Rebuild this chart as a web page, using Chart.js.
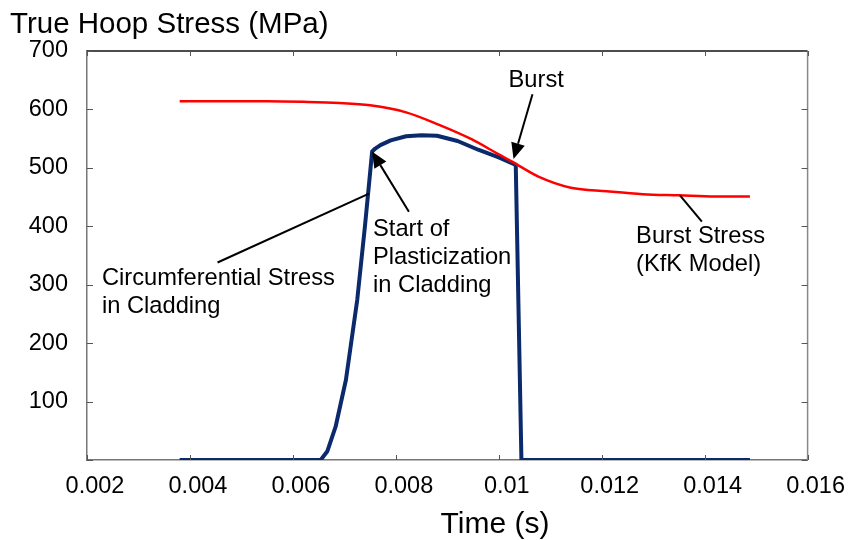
<!DOCTYPE html>
<html>
<head>
<meta charset="utf-8">
<script src="https://cdn.jsdelivr.net/npm/chart.js@4/dist/chart.umd.min.js"></script>
<style>
  html, body { margin: 0; padding: 0; background: #fff; }
  #wrap { width: 849px; height: 540px; }
</style>
</head>
<body>
<div id="wrap"><canvas id="hoopChart"></canvas></div>
<script>
// time (s) / stress (MPa)
const burstTime = [0.0038, 0.0045, 0.0055, 0.0062, 0.0069, 0.0075, 0.0082, 0.00883, 0.00947, 0.0100, 0.01025, 0.01077, 0.0114, 0.0121, 0.0128, 0.0135, 0.0142, 0.01488];
const burstStress = [614, 614, 614, 613, 611, 607, 595, 574, 549, 523, 511, 485, 466, 460, 455, 453, 451, 451];

const hoopTime = [0.0038, 0.00654, 0.00667, 0.00683, 0.00703, 0.00725, 0.0074, 0.00754, 0.0076, 0.0077, 0.0079, 0.0082, 0.0085, 0.0088, 0.0092, 0.0096, 0.0100, 0.01033, 0.01044, 0.01488];
const hoopStress = [0, 0, 15, 57, 137, 274, 400, 528, 533, 539, 547, 554, 556, 555, 546, 531, 518, 505, 0, 0];

const xTicks = [0.002, 0.004, 0.006, 0.008, 0.010, 0.012, 0.014, 0.016];
const yTicks = [0, 100, 200, 300, 400, 500, 600, 700];

const FONT = '"Liberation Sans", Arial, sans-serif';

// callouts, in data coordinates
const arrows = [
  { from: [0.010655, 626], to: [0.010287, 515] },   // Burst
  { from: [0.008254, 425], to: [0.007537, 528] }    // Start of plasticization
];
const leaders = [
  { from: [0.004536, 338], to: [0.007479, 456] },   // circumferential stress
  { from: [0.01352, 453], to: [0.013946, 408] }     // burst stress
];
const notes = [
  { at: [0.01019, 638], lines: ['Burst'] },
  { at: [0.007557, 383], lines: ['Start of', 'Plasticization', 'in Cladding'] },
  { at: [0.012668, 372], lines: ['Burst Stress', '(KfK Model)'] },
  { at: [0.00229, 300], lines: ['Circumferential Stress', 'in Cladding'] }
];

const toPoints = (xs, ys) => xs.map((t, i) => ({ x: t, y: ys[i] }));

const decor = {
  id: 'decor',
  afterDatasetsDraw(chart) {
    const { ctx, chartArea: a, scales: { x, y } } = chart;
    const P = (p) => [x.getPixelForValue(p[0]), y.getPixelForValue(p[1])];
    const seg = (x1, y1, x2, y2) => { ctx.beginPath(); ctx.moveTo(x1, y1); ctx.lineTo(x2, y2); ctx.stroke(); };

    ctx.save();
    // frame: top and right
    ctx.lineWidth = 1.5;
    ctx.strokeStyle = '#111';
    seg(a.left, a.top, a.right, a.top);
    ctx.strokeStyle = '#888';
    seg(a.right, a.top, a.right, a.bottom);

    // inward tick marks
    ctx.strokeStyle = '#555';
    ctx.lineWidth = 1;
    xTicks.forEach(t => {
      const px = Math.round(x.getPixelForValue(t)) + 0.5;
      seg(px, a.bottom, px, a.bottom - 5);
      seg(px, a.top, px, a.top + 5);
    });
    yTicks.forEach(v => {
      const py = Math.round(y.getPixelForValue(v)) + 0.5;
      seg(a.left, py, a.left + 6, py);
      seg(a.right, py, a.right - 6, py);
    });

    // leader lines and arrows
    ctx.strokeStyle = '#000';
    ctx.fillStyle = '#000';
    ctx.lineWidth = 2;
    leaders.forEach(l => {
      const [x1, y1] = P(l.from), [x2, y2] = P(l.to);
      seg(x1, y1, x2, y2);
    });
    arrows.forEach(ar => {
      const [x1, y1] = P(ar.from), [x2, y2] = P(ar.to);
      const ang = Math.atan2(y2 - y1, x2 - x1);
      const len = 16, half = 7;
      const bx = x2 - len * Math.cos(ang), by = y2 - len * Math.sin(ang);
      seg(x1, y1, bx, by);
      ctx.beginPath();
      ctx.moveTo(x2, y2);
      ctx.lineTo(bx + half * Math.sin(ang), by - half * Math.cos(ang));
      ctx.lineTo(bx - half * Math.sin(ang), by + half * Math.cos(ang));
      ctx.closePath();
      ctx.fill();
    });

    // text notes
    ctx.font = '23.7px ' + FONT;
    ctx.textAlign = 'left';
    ctx.textBaseline = 'alphabetic';
    notes.forEach(n => {
      const [px, py] = P(n.at);
      n.lines.forEach((s, i) => ctx.fillText(s, px, py + i * 28));
    });

    // axis titles
    ctx.font = '29.5px ' + FONT;
    ctx.fillText('True Hoop Stress (MPa)', 10, 33);
    ctx.font = '30px ' + FONT;
    ctx.textAlign = 'center';
    ctx.fillText('Time (s)', 495, 533);
    ctx.restore();
  }
};

new Chart(document.getElementById('hoopChart'), {
  type: 'line',
  data: {
    datasets: [
      {
        label: 'Burst Stress (KfK Model)',
        data: toPoints(burstTime, burstStress),
        borderColor: '#ff0000',
        borderWidth: 2.5,
        pointRadius: 0,
        cubicInterpolationMode: 'monotone',
        fill: false
      },
      {
        label: 'Circumferential Stress in Cladding',
        data: toPoints(hoopTime, hoopStress),
        borderColor: '#0b2a6b',
        borderWidth: 4,
        pointRadius: 0,
        tension: 0,
        borderJoinStyle: 'round',
        fill: false
      }
    ]
  },
  options: {
    responsive: true,
    maintainAspectRatio: false,
    animation: false,
    layout: { padding: { top: 51, right: 39, left: 0, bottom: 0 } },
    plugins: {
      legend: { display: false },
      tooltip: { enabled: false }
    },
    scales: {
      x: {
        type: 'linear',
        min: 0.002,
        max: 0.016,
        afterBuildTicks: (s) => { s.ticks = xTicks.map(v => ({ value: v })); },
        afterFit: (s) => { s.height = 80; },
        ticks: {
          color: '#000',
          padding: 12,
          labelOffset: 8,
          maxRotation: 0,
          font: { family: FONT, size: 23.5 },
          callback: (v) => String(Number(v.toFixed(3)))
        },
        grid: { display: false, drawTicks: false },
        border: { display: true, color: '#777', width: 1.5 }
      },
      y: {
        min: 0,
        max: 700,
        afterBuildTicks: (s) => { s.ticks = yTicks.map(v => ({ value: v })); },
        afterFit: (s) => { s.width = 87; },
        ticks: {
          color: '#000',
          padding: 19,
          font: { family: FONT, size: 23.5 },
          callback: (v) => (v === 0 ? '' : v)
        },
        grid: { display: false, drawTicks: false },
        border: { display: true, color: '#777', width: 1.5 }
      }
    }
  },
  plugins: [decor]
});
</script>
</body>
</html>
